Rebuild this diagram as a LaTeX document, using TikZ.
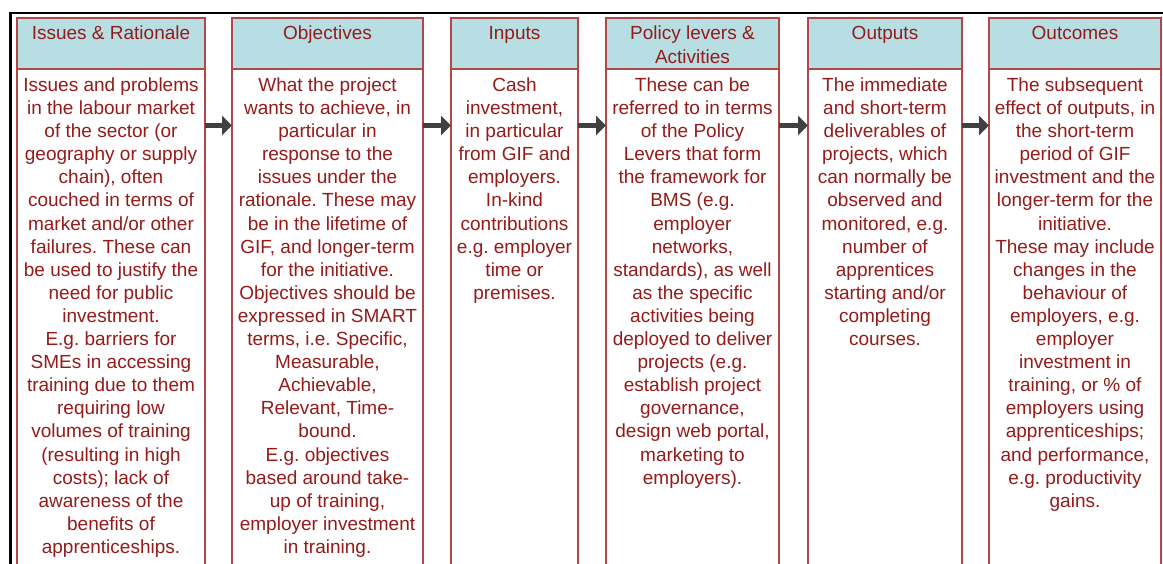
\documentclass[tikz,border=0pt]{standalone}
\usepackage{fontspec}
\setmainfont{Liberation Sans}
\frenchspacing
\usetikzlibrary{arrows.meta}
\definecolor{hdrfill}{RGB}{183,222,226}
\definecolor{boxline}{RGB}{178,72,70}
\definecolor{txtred}{RGB}{150,26,26}
\definecolor{arrgray}{RGB}{64,64,64}
\tikzset{
  hdr/.style={draw=boxline, fill=hdrfill, line width=1.2pt},
  bodybox/.style={draw=boxline, fill=white, line width=1.2pt},
  celltext/.style={anchor=north, align=center, text=txtred, inner sep=0pt,
    font=\fontsize{19}{23.1}\selectfont},
  flow/.style={draw=arrgray, line width=5pt, -{Triangle[length=10pt,width=19pt]}}
}
\begin{document}
\begin{tikzpicture}[x=1pt,y=-1pt]
\useasboundingbox (0,0) rectangle (1163,563);
\clip (0,0) rectangle (1163,563);
% outer frame
\draw[line width=2.6pt] (10.5,600) -- (10.5,13) -- (1170,13);
% columns: headers and bodies
\foreach \n/\l/\r in {1/17/205, 2/232/423, 3/451/578, 4/606/779, 5/808/962, 6/989/1161}{
  \path[hdr] (\l,18) rectangle (\r,69);
  \path[bodybox] (\l,69) rectangle (\r,600);
  \coordinate (h\n) at ({(\l+\r)/2},26);
  \coordinate (t\n) at ({(\l+\r)/2},77.5);
  \coordinate (w\n) at (\l,125.5);
  \coordinate (e\n) at (\r,125.5);
}
% header labels
\node[celltext] (hl1) at (h1) {Issues \& Rationale};
\node[celltext] (hl2) at (h2) {Objectives};
\node[celltext] (hl3) at (h3) {Inputs};
\node[celltext] (hl4) at (h4) {Policy levers \&\\Activities};
\node[celltext] (hl5) at (h5) {Outputs};
\node[celltext] (hl6) at (h6) {Outcomes};
% body texts
\node[celltext] (bt1) at (t1) {Issues and problems\\in the labour market\\of the sector (or\\geography or supply\\chain), often\\couched in terms of\\market and/or other\\failures. These can\\be used to justify the\\need for public\\investment.\\E.g. barriers for\\SMEs in accessing\\training due to them\\requiring low\\volumes of training\\(resulting in high\\costs); lack of\\awareness of the\\benefits of\\apprenticeships.};
\node[celltext] (bt2) at (t2) {What the project\\wants to achieve, in\\particular in\\response to the\\issues under the\\rationale. These may\\be in the lifetime of\\GIF, and longer-term\\for the initiative.\\Objectives should be\\expressed in SMART\\terms, i.e. Specific,\\Measurable,\\Achievable,\\Relevant, Time-\\bound.\\E.g. objectives\\based around take-\\up of training,\\employer investment\\in training.};
\node[celltext] (bt3) at (t3) {Cash\\investment,\\in particular\\from GIF and\\employers.\\In-kind\\contributions\\e.g. employer\\time or\\premises.};
\node[celltext] (bt4) at (t4) {These can be\\referred to in terms\\of the Policy\\Levers that form\\the framework for\\BMS (e.g.\\employer\\networks,\\standards), as well\\as the specific\\activities being\\deployed to deliver\\projects (e.g.\\establish project\\governance,\\design web portal,\\marketing to\\employers).};
\node[celltext] (bt5) at (t5) {The immediate\\and short-term\\deliverables of\\projects, which\\can normally be\\observed and\\monitored, e.g.\\number of\\apprentices\\starting and/or\\completing\\courses.};
\node[celltext] (bt6) at (t6) {The subsequent\\effect of outputs, in\\the short-term\\period of GIF\\investment and the\\longer-term for the\\initiative.\\These may include\\changes in the\\behaviour of\\employers, e.g.\\employer\\investment in\\training, or \% of\\employers using\\apprenticeships;\\and performance,\\e.g. productivity\\gains.};
% flow arrows between columns
\foreach \a/\b in {1/2, 2/3, 3/4, 4/5, 5/6}{
  \draw[flow] (e\a) -- (w\b);
}
\end{tikzpicture}
\end{document}
